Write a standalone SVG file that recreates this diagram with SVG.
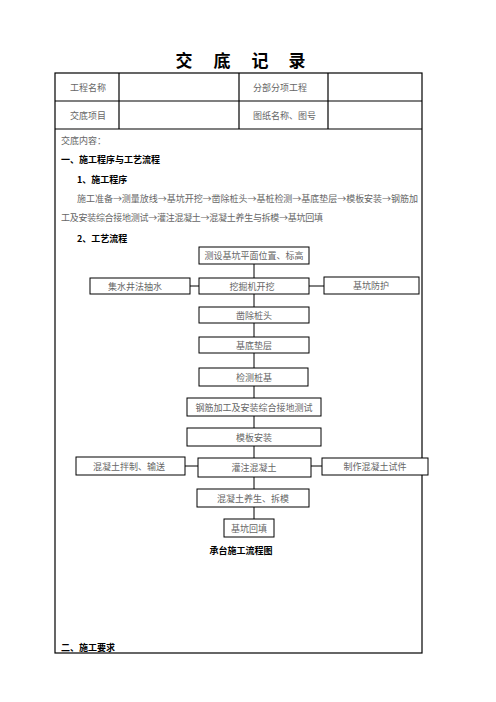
<svg xmlns="http://www.w3.org/2000/svg" width="496" height="702" viewBox="0 0 496 702">
<style>
.t{font-family:"Noto Sans CJK SC","Noto Sans CJK JP",sans-serif;font-size:9px;fill:#666}
.b{font-family:"Noto Sans CJK SC","Noto Sans CJK JP",sans-serif;font-size:9px;font-weight:bold;fill:#000}
.c{text-anchor:middle;dominant-baseline:central}
.box{fill:#fff;stroke:#000;stroke-width:1}
.ln{stroke:#000;stroke-width:1;fill:none}
.tb{stroke:#000;stroke-width:1.2;fill:none}
.h{font-family:"Noto Sans CJK SC","Noto Sans CJK JP",sans-serif;font-size:17px;font-weight:bold;text-anchor:middle}
</style>
<rect width="496" height="702" fill="#fff"/>
<g id="title">
<text class="h" x="184" y="67">交</text>
<text class="h" x="222" y="67">底</text>
<text class="h" x="260" y="67">记</text>
<text class="h" x="297" y="67">录</text>
</g>
<g id="table">
<rect class="tb" x="55" y="73" width="367" height="580"/>
<line class="tb" x1="55" y1="101" x2="422" y2="101"/>
<line class="tb" x1="55" y1="129" x2="422" y2="129"/>
<line class="tb" x1="119" y1="73" x2="119" y2="129"/>
<line class="tb" x1="239" y1="73" x2="239" y2="129"/>
<line class="tb" x1="328" y1="73" x2="328" y2="129"/>
<text class="t" x="70" y="87" dominant-baseline="central">工程名称</text>
<text class="t" x="253" y="87" dominant-baseline="central">分部分项工程</text>
<text class="t" x="70" y="115" dominant-baseline="central">交底项目</text>
<text class="t" x="253" y="115" dominant-baseline="central">图纸名称、图号</text>
<text class="t" x="61" y="140" dominant-baseline="central">交底内容：</text>
<text class="b" x="61" y="159" dominant-baseline="central">一、施工程序与工艺流程</text>
<text class="b" x="77" y="179" dominant-baseline="central">1、施工程序</text>
<text class="t" x="77" y="198" dominant-baseline="central" textLength="341" lengthAdjust="spacing">施工准备→测量放线→基坑开挖→凿除桩头→基桩检测→基底垫层→模板安装→钢筋加</text>
<text class="t" x="61" y="217" dominant-baseline="central" textLength="262" lengthAdjust="spacing">工及安装综合接地测试→灌注混凝土→混凝土养生与拆模→基坑回填</text>
<text class="b" x="77" y="238" dominant-baseline="central">2、工艺流程</text>
<text class="b" x="61" y="647" dominant-baseline="central">二、施工要求</text>
</g>
<g id="connectors">
<line class="ln" x1="254" y1="264" x2="254" y2="519"/>
<line class="ln" x1="190" y1="286" x2="199" y2="286"/>
<line class="ln" x1="309" y1="286" x2="324" y2="286"/>
<line class="ln" x1="185" y1="466" x2="198" y2="466"/>
<line class="ln" x1="311" y1="466" x2="322" y2="466"/>
</g>
<g id="n1"><rect class="box" x="199" y="247" width="110" height="17"/><text class="t c" x="254" y="255.5">测设基坑平面位置、标高</text></g>
<g id="n2"><rect class="box" x="90" y="278" width="100" height="16"/><text class="t c" x="135" y="286">集水井法抽水</text></g>
<g id="n3"><rect class="box" x="199" y="278" width="110" height="16"/><text class="t c" x="252" y="286">挖掘机开挖</text></g>
<g id="n4"><rect class="box" x="324" y="277" width="95" height="17"/><text class="t c" x="371" y="285.5">基坑防护</text></g>
<g id="n5"><rect class="box" x="199" y="307" width="110" height="16"/><text class="t c" x="254" y="315">凿除桩头</text></g>
<g id="n6"><rect class="box" x="199" y="337" width="110" height="16"/><text class="t c" x="254" y="345">基底垫层</text></g>
<g id="n7"><rect class="box" x="199" y="368" width="109" height="18"/><text class="t c" x="254" y="377">检测桩基</text></g>
<g id="n8"><rect class="box" x="187" y="398" width="134" height="18"/><text class="t c" x="254" y="407">钢筋加工及安装综合接地测试</text></g>
<g id="n9"><rect class="box" x="187" y="428" width="134" height="18"/><text class="t c" x="254" y="437">模板安装</text></g>
<g id="n10"><rect class="box" x="76" y="457" width="109" height="18"/><text class="t c" x="129" y="466">混凝土拌制、输送</text></g>
<g id="n11"><rect class="box" x="198" y="458" width="113" height="19"/><text class="t c" x="254" y="467.5">灌注混凝土</text></g>
<g id="n12"><rect class="box" x="322" y="458" width="106" height="17"/><text class="t c" x="375" y="466.5">制作混凝土试件</text></g>
<g id="n13"><rect class="box" x="197" y="489" width="112" height="18"/><text class="t c" x="253" y="498">混凝土养生、拆模</text></g>
<g id="n14"><rect class="box" x="224" y="519" width="50" height="18"/><text class="t c" x="249" y="528">基坑回填</text></g>
<g id="caption"><text class="b c" x="241" y="550">承台施工流程图</text></g>
</svg>
